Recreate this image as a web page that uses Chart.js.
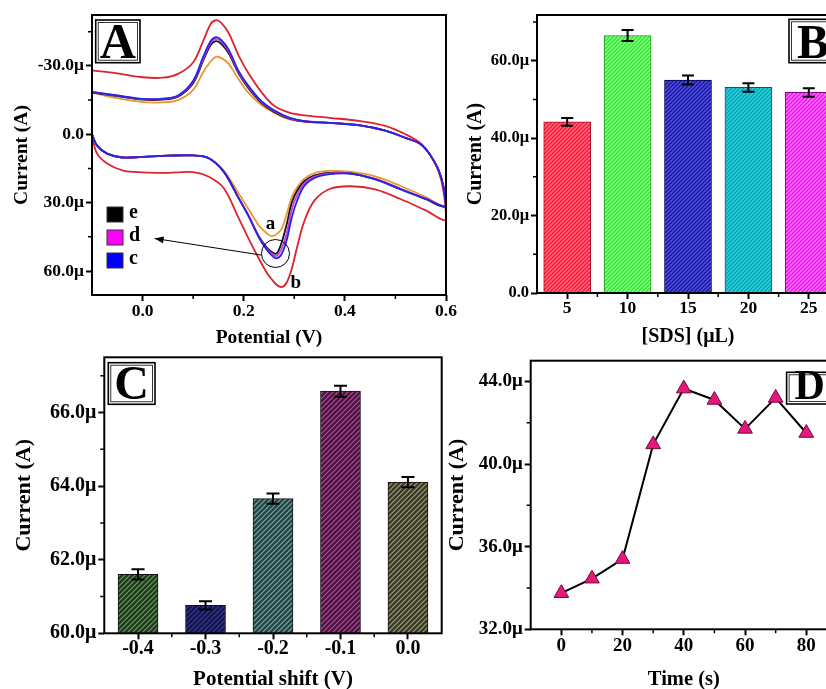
<!DOCTYPE html>
<html>
<head>
<meta charset="utf-8">
<title>SDS optimisation</title>
<script src="https://cdn.jsdelivr.net/npm/chart.js@4.4.1/dist/chart.umd.min.js"></script>
<style>
  html, body { margin: 0; padding: 0; background: #fff; }
  body { position: relative; width: 826px; height: 689px; overflow: hidden; }
  canvas { position: absolute; }
</style>
</head>
<body>
<canvas id="cv" width="460" height="350" style="left:0;top:0"></canvas>
<canvas id="sds" width="420" height="350" style="left:440px;top:0"></canvas>
<canvas id="shift" width="460" height="346" style="left:0;top:345px"></canvas>
<canvas id="time" width="420" height="346" style="left:440px;top:345px"></canvas>
<script>
// panel A - cyclic voltammograms (potential in V, current in µA, cathodic positive)
const potFwd = [-0.1, -0.09, -0.07, -0.04, 0.0, 0.05, 0.1, 0.13, 0.16, 0.19, 0.21, 0.23, 0.245, 0.255, 0.265, 0.275, 0.285, 0.295, 0.305, 0.32, 0.34, 0.37, 0.41, 0.46, 0.51, 0.56, 0.6];
const potRev = [0.595, 0.585, 0.57, 0.55, 0.52, 0.48, 0.43, 0.37, 0.32, 0.29, 0.26, 0.235, 0.21, 0.19, 0.17, 0.155, 0.145, 0.135, 0.12, 0.1, 0.07, 0.04, 0.0, -0.05, -0.1];

const aFwd = [0, 5, 8.5, 10.2, 9.9, 9.4, 9.3, 10.3, 15.8, 26, 33, 40, 43.3, 44.7, 43.8, 41.5, 35, 27.5, 23.5, 19.5, 17, 16.1, 16.4, 18.5, 22.7, 27.5, 31.8];
const aRev = [23, 15.5, 9.5, 4.4, 1.6, -1.6, -3.9, -5, -5.5, -6.6, -9.5, -12.8, -18, -24.1, -31, -33.5, -33.9, -32, -27.3, -19.5, -15, -14, -14.1, -15.8, -18.3];
const bFwd = [0.8, 8.5, 12.8, 15.8, 16.7, 16.9, 16.6, 18.5, 23.5, 36.8, 46, 54.5, 60.5, 63.5, 66, 67, 65, 59, 50, 38, 29, 24, 22.8, 24.2, 28.4, 33.4, 37.4];
const bRev = [25, 16, 9.5, 4, 0, -3.7, -5.8, -7.2, -8.3, -9.5, -12.5, -18.5, -26.5, -34.5, -44.5, -49, -50, -48.5, -41, -31.5, -26.5, -24.8, -25, -26.7, -28];
const cFwd = [0, 5, 8.5, 10.2, 9.9, 9.4, 9.3, 10.4, 16.3, 28, 36, 45.3, 50.5, 53, 54.4, 52.5, 46.4, 36.5, 29.5, 22.6, 19.2, 17.5, 17.3, 19.8, 24.2, 28.3, 31.5];
const cRev = [23, 15.5, 9.5, 4.4, 1.6, -1.6, -3.9, -5, -5.8, -7.3, -10.5, -14.5, -21, -27.7, -37.2, -41.5, -42.6, -41, -34, -23.5, -17, -15.6, -15.5, -17, -18.6];
const dFwd = [0, 5, 8.5, 10.2, 9.9, 9.4, 9.3, 10.4, 16.3, 28, 36, 45, 50, 52.3, 53.4, 50.2, 43.5, 33, 27, 21.5, 18.6, 17.2, 17.2, 19.7, 24, 28.2, 31.4];
const dRev = [23, 15.5, 9.5, 4.4, 1.6, -1.6, -3.9, -5, -5.7, -7.1, -10.2, -14.2, -20.5, -27.2, -36.5, -40.7, -41.8, -40.2, -33.2, -23, -16.8, -15.5, -15.4, -16.9, -18.5];
const eFwd = [0, 5, 8.5, 10.2, 9.9, 9.4, 9.3, 10.4, 16.3, 28, 36, 44.8, 49.5, 51.6, 52.3, 47.5, 39.5, 30, 25, 20.6, 18, 16.9, 17.1, 19.6, 23.9, 28.5, 31.7];
const eRev = [23, 15.5, 9.5, 4.4, 1.6, -1.6, -3.9, -5, -5.6, -6.9, -9.8, -13.8, -20, -26.6, -35.6, -39.8, -40.8, -39.3, -32.4, -22.4, -16.5, -15.2, -15.2, -16.7, -18.3];

const cvTicksX = [0, 0.2, 0.4, 0.6];
const cvMinorX = [0.1, 0.3, 0.5];
const cvTicksY = [-30, 0, 30, 60];
const cvMinorY = [-45, -15, 15, 45];

// panel B - SDS volume
const sdsVolume = ['5', '10', '15', '20', '25'];
const sdsCurrent = [44.2, 66.5, 55.0, 53.1, 51.8];
const sdsError = [1.0, 1.4, 1.15, 1.1, 1.1];
const sdsTicksY = [0, 20, 40, 60];
const sdsMinorY = [10, 30, 50, 70];

// panel C - potential shift
const shiftLabels = ['-0.4', '-0.3', '-0.2', '-0.1', '0.0'];
const shiftCurrent = [61.6, 60.76, 63.66, 66.58, 64.11];
const shiftError = [0.14, 0.11, 0.14, 0.15, 0.14];
const shiftTicksY = [60, 62, 64, 66];
const shiftMinorY = [61, 63, 65, 67];

// panel D - accumulation time
const times = [0, 10, 20, 30, 40, 50, 60, 70, 80];
const timeCurrent = [33.75, 34.45, 35.4, 40.95, 43.65, 43.1, 41.7, 43.2, 41.5];
const timeTicksX = [0, 20, 40, 60, 80];
const timeMinorX = [10, 30, 50, 70];
const timeTicksY = [32, 36, 40, 44];
const timeMinorY = [34, 38, 42];

const serif = "'Liberation Serif', 'Times New Roman', serif";

function microLabel(v) {
  return v === 0 ? '0.0' : v.toFixed(1) + 'μ';
}

function hatch(base, stripe, gap) {
  const c = document.createElement('canvas');
  c.width = c.height = gap;
  const g = c.getContext('2d');
  g.fillStyle = base;
  g.fillRect(0, 0, gap, gap);
  g.strokeStyle = stripe;
  g.lineWidth = 1.2;
  g.beginPath();
  g.moveTo(-1, gap + 1); g.lineTo(gap + 1, -1);
  g.moveTo(-1, 1); g.lineTo(1, -1);
  g.moveTo(gap - 1, gap + 1); g.lineTo(gap + 1, gap - 1);
  g.stroke();
  return g.createPattern(c, 'repeat');
}

function font(size) {
  return { family: serif, size: size, weight: 'bold', lineHeight: 1 };
}

function yAxis(o) {
  return {
    position: 'left',
    min: o.min, max: o.max, reverse: !!o.reverse,
    border: { display: false },
    grid: { drawOnChartArea: false, tickLength: 6, tickWidth: 2, tickColor: '#000' },
    ticks: { color: '#000', padding: 2, font: font(o.tickSize), callback: v => microLabel(v) },
    afterBuildTicks: s => { s.ticks = o.ticks.map(v => ({ value: v })); },
    afterFit: s => { s.width = o.width; },
    title: { display: true, text: 'Current (A)', color: '#000', font: font(o.titleSize), padding: { top: o.titlePad, bottom: 0 } }
  };
}

function xAxis(o) {
  const ax = {
    position: 'bottom',
    border: { display: false },
    grid: { drawOnChartArea: false, offset: false, tickLength: 6, tickWidth: 2, tickColor: '#000' },
    ticks: { color: '#000', padding: o.tickPad, font: font(o.tickSize), maxRotation: 0, autoSkip: false },
    afterFit: s => { s.height = o.height; },
    title: { display: true, text: o.title, color: '#000', font: font(o.titleSize), padding: { top: 0, bottom: o.titlePad } }
  };
  if (o.type === 'linear') {
    ax.type = 'linear';
    ax.min = o.min; ax.max = o.max;
    ax.afterBuildTicks = s => { s.ticks = o.ticks.map(v => ({ value: v })); };
    ax.ticks.callback = o.format;
  }
  return ax;
}

function baseOptions(pad, x, y, extra) {
  return Object.assign({
    responsive: false,
    animation: false,
    events: [],
    layout: { padding: pad },
    plugins: { legend: { display: false }, tooltip: { enabled: false } },
    scales: { x: x, y: y }
  }, extra || {});
}

// box round the plot, minor ticks
function framePlugin(minorX, minorY) {
  return {
    id: 'frame',
    afterDraw(chart) {
      const { ctx, chartArea: a } = chart;
      const { x, y } = chart.scales;
      ctx.save();
      ctx.strokeStyle = '#000';
      ctx.lineWidth = 1.5;
      ctx.beginPath();
      minorX.forEach(v => {
        const p = x.getPixelForValue(v);
        ctx.moveTo(p, a.bottom); ctx.lineTo(p, a.bottom + 4);
      });
      minorY.forEach(v => {
        const p = y.getPixelForValue(v);
        ctx.moveTo(a.left, p); ctx.lineTo(a.left - 4, p);
      });
      ctx.stroke();
      ctx.lineWidth = 2;
      ctx.strokeRect(a.left, a.top, a.right - a.left, a.bottom - a.top);
      ctx.restore();
    }
  };
}

function panelLetter(ctx, letter, x, y, w, h, size) {
  ctx.save();
  ctx.fillStyle = '#fff';
  ctx.fillRect(x, y, w, h);
  ctx.strokeStyle = '#000';
  ctx.lineWidth = 1.6;
  ctx.strokeRect(x, y, w, h);
  ctx.lineWidth = 0.8;
  ctx.strokeRect(x + 2.5, y + 2.5, w - 5, h - 5);
  ctx.fillStyle = '#000';
  ctx.font = 'bold ' + size + 'px ' + serif;
  ctx.textAlign = 'center';
  ctx.textBaseline = 'alphabetic';
  ctx.fillText(letter, x + w / 2, y + h - 5);
  ctx.restore();
}

function letterPlugin(letter, place) {
  return {
    id: 'letter',
    afterDraw(chart) {
      const a = chart.chartArea;
      const r = place(a);
      panelLetter(chart.ctx, letter, r[0], r[1], r[2], r[3], r[4]);
    }
  };
}

function errorPlugin(errors, cap) {
  return {
    id: 'errors',
    afterDatasetsDraw(chart) {
      const { ctx } = chart;
      const y = chart.scales.y;
      const values = chart.data.datasets[0].data;
      ctx.save();
      ctx.strokeStyle = '#000';
      ctx.lineWidth = 2;
      ctx.beginPath();
      chart.getDatasetMeta(0).data.forEach((bar, i) => {
        const top = y.getPixelForValue(values[i] + errors[i]);
        const bot = y.getPixelForValue(values[i] - errors[i]);
        ctx.moveTo(bar.x, top); ctx.lineTo(bar.x, bot);
        ctx.moveTo(bar.x - cap / 2, top); ctx.lineTo(bar.x + cap / 2, top);
        ctx.moveTo(bar.x - cap / 2, bot); ctx.lineTo(bar.x + cap / 2, bot);
      });
      ctx.stroke();
      ctx.restore();
    }
  };
}

// ---------- A ----------
function loop(fwd, rev) {
  return potFwd.map((p, i) => ({ x: p, y: fwd[i] }))
    .concat(potRev.map((p, i) => ({ x: p, y: rev[i] })));
}

const curves = [
  { label: 'c', fwd: cFwd, rev: cRev, color: '#2424e8' },
  { label: 'd', fwd: dFwd, rev: dRev, color: '#d23ad2' },
  { label: 'e', fwd: eFwd, rev: eRev, color: '#111111' },
  { label: 'b', fwd: bFwd, rev: bRev, color: '#dc2430' },
  { label: 'a', fwd: aFwd, rev: aRev, color: '#e8982e' }
];

const cvNotes = {
  id: 'cvNotes',
  afterDraw(chart) {
    const { ctx, chartArea: a } = chart;
    const { x, y } = chart.scales;
    ctx.save();
    // legend
    const keys = [['e', '#000000'], ['d', '#ff00ff'], ['c', '#0000ff']];
    keys.forEach((k, i) => {
      const top = a.top + 192 + i * 23;
      ctx.fillStyle = k[1];
      ctx.fillRect(a.left + 15, top, 16, 15);
      ctx.strokeStyle = '#333';
      ctx.lineWidth = 1;
      ctx.strokeRect(a.left + 15, top, 16, 15);
      ctx.fillStyle = '#000';
      ctx.font = 'bold 20px ' + serif;
      ctx.textAlign = 'left';
      ctx.textBaseline = 'middle';
      ctx.fillText(k[0], a.left + 37, top + 6);
    });
    // curve labels
    ctx.font = 'bold 19px ' + serif;
    ctx.textAlign = 'center';
    ctx.fillText('a', x.getPixelForValue(0.253), y.getPixelForValue(39.6));
    ctx.fillText('b', x.getPixelForValue(0.303), y.getPixelForValue(65.4));
    // circle round the c/d/e peaks and arrow to the legend
    ctx.strokeStyle = '#000';
    ctx.lineWidth = 1;
    ctx.beginPath();
    ctx.arc(x.getPixelForValue(0.2628), y.getPixelForValue(52.3), 14, 0, Math.PI * 2);
    ctx.stroke();
    const tx = x.getPixelForValue(0.235), ty = y.getPixelForValue(53);
    const hx = x.getPixelForValue(0.0238), hy = y.getPixelForValue(45.7);
    ctx.beginPath();
    ctx.moveTo(tx, ty); ctx.lineTo(hx, hy);
    ctx.stroke();
    const ang = Math.atan2(hy - ty, hx - tx);
    ctx.beginPath();
    ctx.moveTo(hx, hy);
    ctx.lineTo(hx - 9 * Math.cos(ang) + 3.5 * Math.sin(ang), hy - 9 * Math.sin(ang) - 3.5 * Math.cos(ang));
    ctx.lineTo(hx - 9 * Math.cos(ang) - 3.5 * Math.sin(ang), hy - 9 * Math.sin(ang) + 3.5 * Math.cos(ang));
    ctx.closePath();
    ctx.fillStyle = '#000';
    ctx.fill();
    ctx.restore();
  }
};

new Chart(document.getElementById('cv'), {
  type: 'scatter',
  data: {
    datasets: curves.map(c => ({
      label: c.label,
      data: loop(c.fwd, c.rev),
      showLine: true,
      borderColor: c.color,
      borderWidth: 1.8,
      pointRadius: 0,
      tension: 0.35
    }))
  },
  options: baseOptions(
    { left: 0, top: 15, right: 14, bottom: 0 },
    xAxis({ type: 'linear', min: -0.1, max: 0.6, ticks: cvTicksX, format: v => v.toFixed(1),
            height: 55, tickSize: 17.5, tickPad: 2, title: 'Potential (V)', titleSize: 19.5, titlePad: 2.25 }),
    yAxis({ min: -52.3, max: 70.5, reverse: true, ticks: cvTicksY, width: 92, tickSize: 17.5, titleSize: 19.5, titlePad: 12.25 })
  ),
  plugins: [framePlugin(cvMinorX, cvMinorY), cvNotes,
            letterPlugin('A', a => [a.left + 3.7, a.top + 5, 44.3, 42.7, 50])]
});

// ---------- B ----------
const sdsFill = [
  hatch('#f5203c', '#ff7a8c', 4),
  hatch('#38e838', '#9cff9c', 4),
  hatch('#1c1ca8', '#5a5ae0', 4),
  hatch('#22d2e2', '#1592a2', 4),
  hatch('#e81ee8', '#ff80ff', 4)
];
const sdsEdge = ['#a0102a', '#189018', '#000050', '#0a5a66', '#880088'];

new Chart(document.getElementById('sds'), {
  type: 'bar',
  data: {
    labels: sdsVolume,
    datasets: [{
      data: sdsCurrent,
      backgroundColor: sdsFill,
      borderColor: sdsEdge,
      borderWidth: 1,
      barThickness: 47
    }]
  },
  options: baseOptions(
    { left: 0, top: 15, right: 21, bottom: 0 },
    xAxis({ height: 57, tickSize: 17.5, tickPad: 1, title: '[SDS] (μL)', titleSize: 20, titlePad: 3 }),
    yAxis({ min: 0, max: 71.8, ticks: sdsTicksY, width: 97, tickSize: 16.5, titleSize: 20, titlePad: 25.7 })
  ),
  plugins: [errorPlugin(sdsError, 12), framePlugin([0.5, 1.5, 2.5, 3.5, 4.5], sdsMinorY),
            letterPlugin('B', a => [a.right - 50, a.top + 4.3, 48, 43.4, 48])]
});

// ---------- C ----------
const shiftFill = [
  hatch('#1e3a1e', '#6e9a5e', 5),
  hatch('#141450', '#3a3c8e', 5),
  hatch('#244444', '#78a8a8', 5),
  hatch('#4a1440', '#b0509a', 5),
  hatch('#38382a', '#a0a070', 5)
];

new Chart(document.getElementById('shift'), {
  type: 'bar',
  data: {
    labels: shiftLabels,
    datasets: [{
      data: shiftCurrent,
      backgroundColor: shiftFill,
      borderColor: '#111',
      borderWidth: 1,
      barThickness: 40
    }]
  },
  options: baseOptions(
    { left: 0, top: 12.3, right: 18.3, bottom: 0 },
    xAxis({ height: 57.7, tickSize: 20, tickPad: 0, title: 'Potential shift (V)', titleSize: 21, titlePad: 1 }),
    yAxis({ min: 60, max: 67.5, ticks: shiftTicksY, width: 104.3, tickSize: 20, titleSize: 22, titlePad: 13 })
  ),
  plugins: [errorPlugin(shiftError, 13), framePlugin([0.5, 1.5, 2.5, 3.5], shiftMinorY),
            letterPlugin('C', a => [a.left + 4, a.top + 5.4, 46.7, 41.6, 48])]
});

// ---------- D ----------
new Chart(document.getElementById('time'), {
  type: 'line',
  data: {
    datasets: [{
      data: times.map((t, i) => ({ x: t, y: timeCurrent[i] })),
      borderColor: '#000',
      borderWidth: 2,
      tension: 0,
      pointStyle: 'triangle',
      pointRadius: 8.5,
      pointBackgroundColor: '#e8177e',
      pointBorderColor: '#6a0a3a',
      pointBorderWidth: 1
    }]
  },
  options: baseOptions(
    { left: 0, top: 15.7, right: 23.1, bottom: 0 },
    xAxis({ type: 'linear', min: -10, max: 90, ticks: timeTicksX, format: v => String(v),
            height: 61.7, tickSize: 19, tickPad: 1.2, title: 'Time (s)', titleSize: 20.5, titlePad: 0.75 }),
    yAxis({ min: 32, max: 45, ticks: timeTicksY, width: 90.7, tickSize: 19, titleSize: 22, titlePad: 6.5 })
  ),
  plugins: [framePlugin(timeMinorX, timeMinorY),
            letterPlugin('D', a => [a.right - 50.3, a.top + 11.6, 46, 31.7, 42])]
});
</script>
</body>
</html>
